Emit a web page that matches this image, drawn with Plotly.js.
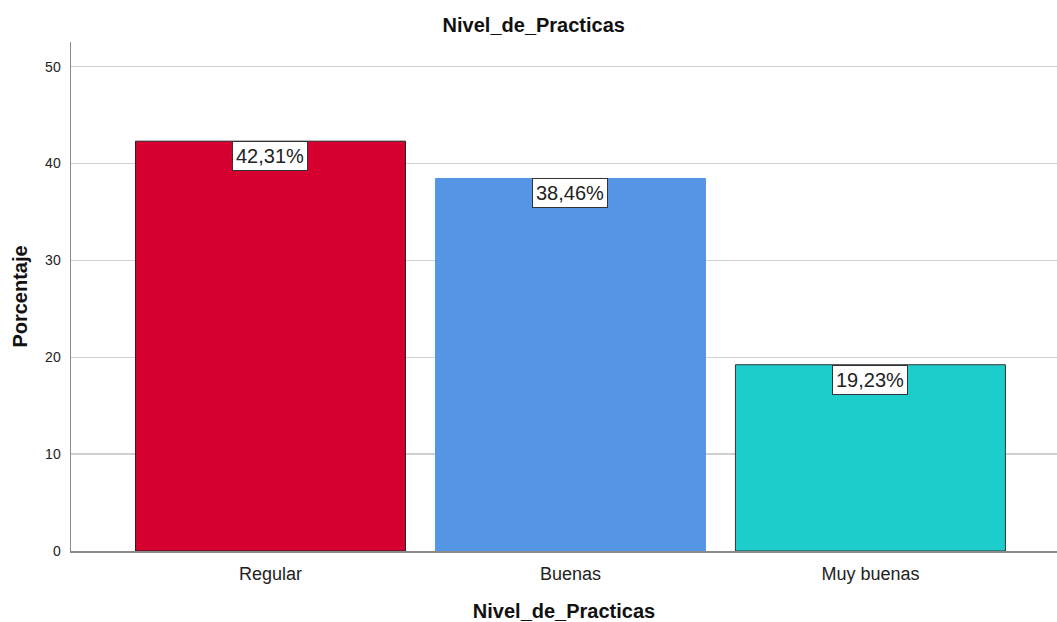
<!DOCTYPE html>
<html>
<head>
<meta charset="utf-8">
<script src="https://cdn.plot.ly/plotly-3.0.1.min.js"></script>
<style>
  html, body { margin: 0; padding: 0; background: #fff; }
  #chart { width: 1057px; height: 622px; }
</style>
</head>
<body>
<div id="chart"></div>
<script>
// Distribución porcentual del nivel de prácticas
const categorias = ['Regular', 'Buenas', 'Muy buenas'];
const porcentajes = [42.31, 38.46, 19.23];
const colores = ['#D60030', '#5595E5', '#1DCDCC'];
const bordes = ['#222222', '#5595E5', '#333333'];
const yTicks = [0, 10, 20, 30, 40, 50];

const fmt = v => v.toFixed(2).replace('.', ',') + '%';
const FONT = 'Liberation Sans, Arial, sans-serif';

const trace = {
  type: 'bar',
  x: categorias,
  y: porcentajes,
  width: 0.9,
  marker: { color: colores, line: { color: bordes, width: 1 } },
  hoverinfo: 'skip'
};

const etiquetas = categorias.map((c, i) => ({
  x: c,
  y: porcentajes[i],
  xref: 'x',
  yref: 'y',
  yanchor: 'top',
  text: fmt(porcentajes[i]),
  showarrow: false,
  bgcolor: '#ffffff',
  bordercolor: '#333333',
  borderwidth: 1,
  borderpad: 3,
  font: { family: FONT, size: 20, color: '#222222' }
}));

const layout = {
  width: 1057,
  height: 622,
  margin: { l: 71, r: 0, t: 42, b: 71 },
  paper_bgcolor: '#ffffff',
  plot_bgcolor: '#ffffff',
  showlegend: false,
  font: { family: FONT, color: '#222222' },
  title: {
    text: '<b>Nivel_de_Practicas</b>',
    x: 0.505,
    xref: 'container',
    xanchor: 'center',
    y: 0.96,
    yref: 'container',
    yanchor: 'middle',
    font: { family: FONT, size: 20, color: '#111111' }
  },
  xaxis: {
    type: 'category',
    range: [-0.665, 2.622],
    showgrid: false,
    showline: true,
    linecolor: '#8a8a8a',
    linewidth: 1.5,
    ticks: '',
    ticklabelstandoff: 6,
    tickfont: { family: FONT, size: 18, color: '#222222' },
    title: {
      text: '<b>Nivel_de_Practicas</b>',
      standoff: 22,
      font: { family: FONT, size: 20, color: '#111111' }
    },
    fixedrange: true
  },
  yaxis: {
    range: [0, 52.55],
    tickvals: yTicks,
    ticktext: yTicks.map(String),
    showgrid: true,
    gridcolor: '#d0d0d0',
    gridwidth: 1.5,
    zeroline: false,
    showline: true,
    linecolor: '#8a8a8a',
    linewidth: 1.5,
    ticks: '',
    ticklabelstandoff: 6,
    tickfont: { family: FONT, size: 14, color: '#222222' },
    title: {
      text: '<b>Porcentaje</b>',
      standoff: 12,
      font: { family: FONT, size: 20, color: '#111111' }
    },
    fixedrange: true
  },
  annotations: etiquetas
};

Plotly.newPlot('chart', [trace], layout, { staticPlot: true, displayModeBar: false });
</script>
</body>
</html>
